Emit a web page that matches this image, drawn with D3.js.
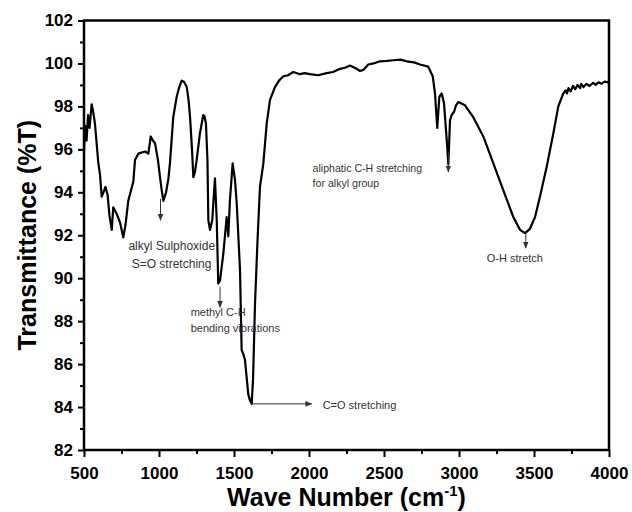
<!DOCTYPE html>
<html>
<head>
<meta charset="utf-8">
<script src="https://cdn.jsdelivr.net/npm/d3@7"></script>
<style>
  body { margin: 0; background: #fff; }
  svg { display: block; font-family: "Liberation Sans", Arial, sans-serif; }
</style>
</head>
<body>
<div id="chart"></div>
<script>
// FTIR spectrum, values
const waveNumber = [500, 507, 517, 527, 537, 551, 560, 573, 595, 607, 618, 630, 643, 657, 670, 685, 695, 718, 740, 762,
    777, 795, 829, 840, 862, 907, 929, 945, 960, 973, 993, 1007, 1018, 1029, 1047, 1062, 1073, 1095, 1118, 1133,
    1151, 1167, 1185, 1197, 1207, 1220, 1229, 1240, 1251, 1273, 1295, 1303, 1313, 1323, 1329, 1340, 1355, 1365, 1373, 1385,
    1395, 1407, 1429, 1451, 1462, 1473, 1491, 1507, 1518, 1540, 1551, 1563, 1573, 1595, 1607, 1618, 1627, 1640, 1657, 1673,
    1695, 1718, 1740, 1773, 1800, 1829, 1860, 1895, 1940, 1970, 2007, 2060, 2118, 2160, 2207, 2240, 2273, 2318, 2340, 2362,
    2395, 2430, 2473, 2520, 2562, 2610, 2651, 2700, 2740, 2795, 2825, 2840, 2855, 2869, 2885, 2900, 2918, 2929, 2940, 2951,
    2967, 2980, 2995, 3040, 3095, 3162, 3229, 3295, 3362, 3407, 3440, 3473, 3507, 3540, 3585, 3629, 3662, 3695, 3710, 3720,
    3730, 3745, 3760, 3775, 3790, 3807, 3815, 3830, 3850, 3870, 3895, 3910, 3930, 3950, 3970, 3995, 4000];
const transmittance = [95.9, 97.1, 96.4, 97.6, 97.0, 98.1, 97.8, 97.2, 95.4, 94.8, 93.8, 94.0, 94.25, 93.9, 92.9, 92.25, 93.3, 93.0, 92.6, 91.9,
    92.5, 93.6, 94.5, 95.5, 95.8, 95.9, 95.8, 96.6, 96.4, 96.3, 95.5, 94.7, 94.1, 93.6, 94.0, 94.6, 95.35, 97.5, 98.45, 98.85,
    99.2, 99.15, 98.9, 98.3, 97.5, 96.0, 94.7, 94.95, 95.5, 96.75, 97.6, 97.55, 97.2, 95.5, 92.7, 92.25, 92.7, 93.8, 94.65, 92.7,
    89.75, 89.9, 91.15, 92.85, 91.95, 93.65, 95.35, 94.55, 93.5, 90.4, 86.65, 86.45, 86.2, 84.6, 84.3, 84.15, 85.3, 88.8, 91.8, 94.25,
    95.3, 97.2, 98.3, 98.9, 99.2, 99.4, 99.45, 99.6, 99.5, 99.55, 99.5, 99.45, 99.55, 99.6, 99.75, 99.8, 99.9, 99.75, 99.65, 99.7,
    99.95, 100.0, 100.1, 100.12, 100.15, 100.18, 100.1, 100.05, 99.95, 99.85, 99.4, 98.6, 97.0, 98.45, 98.6, 98.15, 96.45, 95.3, 97.35, 97.6,
    97.75, 98.05, 98.2, 98.05, 97.5, 96.6, 95.35, 94.1, 92.85, 92.25, 92.1, 92.3, 92.85, 93.8, 95.2, 96.75, 98.0, 98.6, 98.75, 98.6,
    98.85, 98.7, 98.95, 98.8, 99.0, 98.85, 99.05, 98.9, 99.05, 98.95, 99.1, 99.0, 99.12, 99.05, 99.15, 99.12, 99.2];

const xTicks = [500, 1000, 1500, 2000, 2500, 3000, 3500, 4000];
const xMinor = [750, 1250, 1750, 2250, 2750, 3250, 3750];
const yTicks = [82, 84, 86, 88, 90, 92, 94, 96, 98, 100, 102];
const yMinor = [83, 85, 87, 89, 91, 93, 95, 97, 99, 101];

// annotation labels: text lines, anchor [wave number, %T]
const noteLines = [
    ["alkyl Sulphoxide", 796, 91.31, 12],
    ["S=O stretching", 818, 90.46, 12],
    ["methyl C-H", 1211, 88.24, 11],
    ["bending vibrations", 1211, 87.51, 11],
    ["C=O stretching", 2091, 83.92, 11],
    ["aliphatic C-H stretching", 2024, 94.96, 10.6],
    ["for alkyl group", 2024, 94.26, 10.6],
    ["O-H stretch", 3185, 90.77, 11]
];
// arrows: [from wave, from %T, to wave, to %T]
const noteArrows = [
    [1010, 93.7, 1010, 92.7],
    [1407, 89.6, 1407, 88.65],
    [1618, 84.15, 2018, 84.15],
    [2929, 95.9, 2929, 94.95],
    [3445, 92.05, 3445, 91.4]
];

const width = 632, height = 512;
const margin = {left: 84, right: 23, top: 20.5, bottom: 62};

const svg = d3.select("#chart").append("svg")
    .attr("width", width)
    .attr("height", height);

svg.append("rect").attr("width", width).attr("height", height).attr("fill", "#fff");

const x = d3.scaleLinear().domain([500, 4000]).range([margin.left, width - margin.right]);
const y = d3.scaleLinear().domain([82, 102]).range([height - margin.bottom, margin.top]);

// arrow head
svg.append("defs").append("marker")
    .attr("id", "head")
    .attr("viewBox", "0 0 10 10")
    .attr("refX", 9).attr("refY", 5)
    .attr("markerWidth", 7).attr("markerHeight", 7)
    .attr("markerUnits", "userSpaceOnUse")
    .attr("orient", "auto")
    .append("path").attr("d", "M0,1L10,5L0,9Z").attr("fill", "#333");

// spectrum
const pts = waveNumber.map((w, i) => [w, transmittance[i]]);
const line = d3.line().x(d => x(d[0])).y(d => y(d[1]));

svg.append("path")
    .datum(pts)
    .attr("d", line)
    .attr("fill", "none")
    .attr("stroke", "#000")
    .attr("stroke-width", 2.2)
    .attr("stroke-linejoin", "round");

// annotations
svg.selectAll(".arrow").data(noteArrows).enter().append("line")
    .attr("class", "arrow")
    .attr("x1", d => x(d[0])).attr("y1", d => y(d[1]))
    .attr("x2", d => x(d[2])).attr("y2", d => y(d[3]))
    .attr("stroke", "#333").attr("stroke-width", 1)
    .attr("marker-end", "url(#head)");

svg.selectAll(".note").data(noteLines).enter().append("text")
    .attr("class", "note")
    .attr("x", d => x(d[1]))
    .attr("y", d => y(d[2]))
    .attr("font-size", d => d[3] + "px")
    .attr("fill", "#333")
    .text(d => d[0]);

// axes
const axisB = svg.append("g")
    .attr("transform", "translate(0," + y(82) + ")")
    .call(d3.axisBottom(x).tickValues(xTicks).tickSize(7).tickSizeOuter(0).tickPadding(10).tickFormat(d3.format("d")));
const axisBm = svg.append("g")
    .attr("transform", "translate(0," + y(82) + ")")
    .call(d3.axisBottom(x).tickValues(xMinor).tickSize(4).tickSizeOuter(0).tickFormat(""));
const axisL = svg.append("g")
    .attr("transform", "translate(" + x(500) + ",0)")
    .call(d3.axisLeft(y).tickValues(yTicks).tickSize(6).tickSizeOuter(0).tickPadding(5));
const axisLm = svg.append("g")
    .attr("transform", "translate(" + x(500) + ",0)")
    .call(d3.axisLeft(y).tickValues(yMinor).tickSize(4).tickSizeOuter(0).tickFormat(""));

[axisB, axisBm, axisL, axisLm].forEach(function(g) {
    g.select(".domain").remove();
    g.selectAll(".tick line").attr("stroke", "#000").attr("stroke-width", 2);
    g.selectAll(".tick text")
        .attr("fill", "#000")
        .attr("font-size", "17px")
        .attr("font-weight", "bold")
        .attr("font-family", "'Liberation Sans', Arial, sans-serif");
});

// frame
svg.append("rect")
    .attr("x", x(500)).attr("y", y(102))
    .attr("width", x(4000) - x(500)).attr("height", y(82) - y(102))
    .attr("fill", "none").attr("stroke", "#000").attr("stroke-width", 2.5);

// axis titles
const xt = svg.append("text")
    .attr("x", (x(500) + x(4000)) / 2)
    .attr("y", 506)
    .attr("text-anchor", "middle")
    .attr("font-size", "25px")
    .attr("font-weight", "bold");
xt.append("tspan").text("Wave Number (cm");
xt.append("tspan").attr("font-size", "15px").attr("dy", -10).text("-1");
xt.append("tspan").attr("dy", 10).text(")");

svg.append("text")
    .attr("transform", "translate(36," + ((y(82) + y(102)) / 2) + ") rotate(-90)")
    .attr("text-anchor", "middle")
    .attr("font-size", "25px")
    .attr("font-weight", "bold")
    .text("Transmittance (%T)");
</script>
</body>
</html>
